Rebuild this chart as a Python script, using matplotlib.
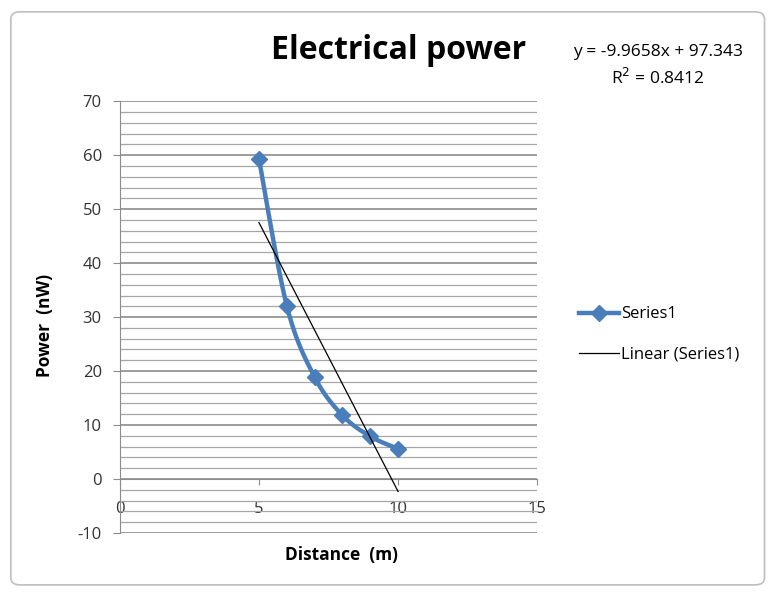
import numpy as np
import matplotlib
matplotlib.use("Agg")
import matplotlib.pyplot as plt
from matplotlib.patches import FancyBboxPatch
from matplotlib.lines import Line2D

# data
distance = [5, 6, 7, 8, 9, 10]
power = [59.3, 32.1, 18.9, 11.8, 7.9, 5.6]
slope = -9.9658
intercept = 97.343
r2 = 0.8412

BLUE = "#4A7EBB"


def smooth(xs, ys, n=20):
    # catmull-rom, roughly what excel's "smoothed line" does
    px = np.array([xs[0]] + list(xs) + [xs[-1]], dtype=float)
    py = np.array([ys[0]] + list(ys) + [ys[-1]], dtype=float)
    outx, outy = [], []
    t = np.linspace(0, 1, n)
    for i in range(1, len(px) - 2):
        for p, out in ((px, outx), (py, outy)):
            p0, p1, p2, p3 = p[i - 1], p[i], p[i + 1], p[i + 2]
            out.extend(0.5 * (2 * p1 + (-p0 + p2) * t
                              + (2 * p0 - 5 * p1 + 4 * p2 - p3) * t ** 2
                              + (-p0 + 3 * p1 - 3 * p2 + p3) * t ** 3))
    return outx, outy


plt.rcParams['font.family'] = ['Open Sans', 'DejaVu Sans']
plt.rcParams['axes.unicode_minus'] = False

fig = plt.figure(figsize=(7.73, 5.92), dpi=100)
frame = FancyBboxPatch((0.014, 0.012), 0.975, 0.968, boxstyle="round,pad=0,rounding_size=0.012",
                       transform=fig.transFigure, facecolor="white", edgecolor="#BFBFBF", lw=1.2, zorder=-10)
fig.patches.append(frame)

ax = fig.add_axes([0.155, 0.0997, 0.54, 0.7293])
ax.patch.set_alpha(0)
ax.set_xlim(0, 15)
ax.set_ylim(-10, 70)

# gridlines
ax.set_yticks(np.arange(-10, 71, 10))
ax.set_yticks(np.arange(-10, 71, 2), minor=True)
ax.grid(axis='y', which='major', color="#8C8C8C", lw=1.2)
ax.grid(axis='y', which='minor', color="#A6A6A6", lw=0.9)
ax.set_axisbelow(True)
ax.tick_params(axis='y', which='minor', length=0)
ax.tick_params(axis='y', which='major', length=5, color="#8C8C8C", labelsize=12, labelcolor="#333333", pad=8)

# x axis crosses at y=0
ax.spines['top'].set_visible(False)
ax.spines['right'].set_visible(False)
ax.spines['bottom'].set_position(('data', 0))
ax.spines['bottom'].set_color("#8C8C8C")
ax.spines['left'].set_color("#8C8C8C")
ax.set_xticks([0, 5, 10, 15])
ax.tick_params(axis='x', length=4, color="#8C8C8C", labelsize=12, labelcolor="#333333", pad=12)

sx, sy = smooth(distance, power)
ax.plot(sx, sy, color=BLUE, lw=3.2, solid_capstyle='round', zorder=3)
ax.plot(distance, power, ls='none', marker='D', ms=8, color=BLUE, zorder=4)

tx = np.array([distance[0], distance[-1]])
ax.plot(tx, slope * tx + intercept, color="black", lw=0.9, zorder=5)

ax.set_xlabel("Distance  (m)", fontsize=12.5, fontweight='bold')
ax.set_ylabel("Power  (nW)", fontsize=12.5, fontweight='bold')
ax.xaxis.set_label_coords(0.53, -0.03)
ax.yaxis.set_label_coords(-0.158, 0.48)

fig.text(0.515, 0.915, "Electrical power", fontsize=23, fontweight='bold', ha='center', va='center')
fig.text(0.851, 0.913, "y = -9.9658x + 97.343", fontsize=12.5, ha='center', va='center')
fig.text(0.851, 0.868, "R$^2$ = %.4f" % r2, fontsize=12.5, ha='center', va='center')

# legend
handles = [Line2D([], [], color=BLUE, lw=3.2, marker='D', ms=8),
           Line2D([], [], color="black", lw=0.9)]
fig.legend(handles, ["Series1", "Linear (Series1)"], loc='center left', bbox_to_anchor=(0.73, 0.435),
           frameon=False, fontsize=12, handlelength=2.4, handletextpad=0.1, labelspacing=1.45)

fig.savefig("out.png", dpi=100)
